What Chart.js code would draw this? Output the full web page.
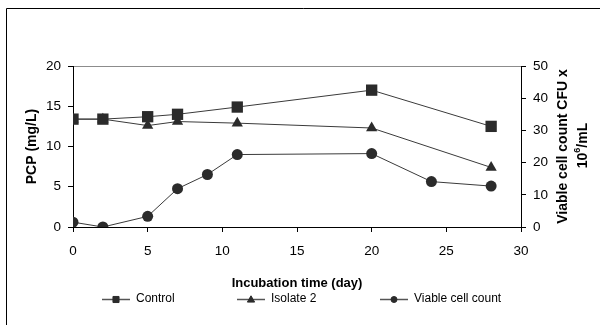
<!DOCTYPE html>
<html>
<head>
<meta charset="utf-8">
<script src="https://cdn.jsdelivr.net/npm/chart.js@4/dist/chart.umd.min.js"></script>
<style>
  html, body { margin: 0; padding: 0; background: #fff; }
  #wrap { position: relative; width: 600px; height: 325px; }
</style>
</head>
<body>
<div id="wrap"><canvas id="c" width="600" height="325"></canvas></div>
<script>
// ---- data ----
const controlDays = [0, 2, 5, 7, 11, 20, 28];
const controlPCP = [13.4, 13.4, 13.7, 14.0, 14.9, 17.0, 12.5];

const isolateDays = [0, 2, 5, 7, 11, 20, 28];
const isolatePCP = [13.4, 13.4, 12.6, 13.1, 12.9, 12.3, 7.4];

const viableDays = [0, 2, 5, 7, 9, 11, 20, 24, 28];
const viableCount = [1.5, 0, 3.3, 11.9, 16.3, 22.5, 22.8, 14.1, 12.7];

const seriesNames = ['Control', 'Isolate 2', 'Viable cell count'];
const xTitle = 'Incubation time (day)';
const yTitle = 'PCP (mg/L)';
const y2TitleLine1 = 'Viable cell count CFU x';

const pts = (xs, ys) => xs.map((x, i) => ({ x: x, y: ys[i] }));

const LINE = '#3a3a3a';
const MARK = '#2b2b2b';
const FONT = "'Liberation Sans', Arial, sans-serif";

const framePlugin = {
  id: 'frame',
  beforeDraw(chart) {
    const ctx = chart.ctx;
    ctx.save();
    ctx.strokeStyle = '#000';
    ctx.lineWidth = 1;
    ctx.beginPath();
    ctx.moveTo(6.5, 325);
    ctx.lineTo(6.5, 8.5);
    ctx.lineTo(600, 8.5);
    ctx.stroke();
    ctx.restore();
  }
};

const extrasPlugin = {
  id: 'extras',
  afterDraw(chart) {
    const ctx = chart.ctx;
    const a = chart.chartArea;
    const cy = (a.top + a.bottom) / 2;
    // right axis title (reads bottom to top)
    ctx.save();
    ctx.fillStyle = '#000';
    ctx.textAlign = 'center';
    ctx.textBaseline = 'middle';
    ctx.font = 'bold 14px ' + FONT;
    ctx.translate(563, cy);
    ctx.rotate(-Math.PI / 2);
    ctx.fillText(y2TitleLine1, 0, 0);
    ctx.restore();

    ctx.save();
    ctx.fillStyle = '#000';
    ctx.textBaseline = 'middle';
    ctx.translate(583, cy - 1);
    ctx.rotate(-Math.PI / 2);
    ctx.font = 'bold 14px ' + FONT;
    const w1 = ctx.measureText('10').width;
    const w3 = ctx.measureText('/mL').width;
    ctx.font = 'bold 9px ' + FONT;
    const w2 = ctx.measureText('6').width;
    const total = w1 + w2 + w3;
    let x = -total / 2;
    ctx.textAlign = 'left';
    ctx.font = 'bold 14px ' + FONT;
    ctx.fillText('10', x, 0); x += w1;
    ctx.font = 'bold 9px ' + FONT;
    ctx.fillText('6', x, -5); x += w2;
    ctx.font = 'bold 14px ' + FONT;
    ctx.fillText('/mL', x, 0);
    ctx.restore();

    // legend
    const items = [
      { x0: 102, style: 'rect', r: 4.3 },
      { x0: 237, style: 'triangle', r: 4.2 },
      { x0: 380, style: 'circle', r: 3 }
    ];
    const ly = 299;
    ctx.save();
    items.forEach((it, i) => {
      ctx.strokeStyle = '#555';
      ctx.lineWidth = 1.5;
      ctx.beginPath();
      ctx.moveTo(it.x0, ly + 0.5);
      ctx.lineTo(it.x0 + 28, ly + 0.5);
      ctx.stroke();
      ctx.fillStyle = MARK;
      ctx.strokeStyle = MARK;
      ctx.lineWidth = 1;
      Chart.helpers.drawPoint(ctx, { pointStyle: it.style, radius: it.r, borderWidth: 1, rotation: 0 }, it.x0 + 14, ly + (it.style === 'triangle' ? 1 : 0.5));
      ctx.fillStyle = '#000';
      ctx.font = '12px ' + FONT;
      ctx.textAlign = 'left';
      ctx.textBaseline = 'middle';
      ctx.fillText(seriesNames[i], it.x0 + 34, ly);
    });
    ctx.restore();
  }
};

new Chart(document.getElementById('c'), {
  type: 'line',
  data: {
    datasets: [
      {
        label: seriesNames[0], data: pts(controlDays, controlPCP), yAxisID: 'y',
        borderColor: LINE, borderWidth: 1, pointStyle: 'rect', pointRadius: 8,
        pointBackgroundColor: MARK, pointBorderColor: MARK, pointBorderWidth: 0, tension: 0
      },
      {
        label: seriesNames[1], data: pts(isolateDays, isolatePCP), yAxisID: 'y',
        borderColor: LINE, borderWidth: 1, pointStyle: 'triangle', pointRadius: 6.5,
        pointBackgroundColor: MARK, pointBorderColor: MARK, pointBorderWidth: 0, tension: 0
      },
      {
        label: seriesNames[2], data: pts(viableDays, viableCount), yAxisID: 'y2',
        borderColor: LINE, borderWidth: 1, pointStyle: 'circle', pointRadius: 5.5,
        pointBackgroundColor: MARK, pointBorderColor: MARK, pointBorderWidth: 0, tension: 0
      }
    ]
  },
  options: {
    responsive: false,
    animation: false,
    devicePixelRatio: 1,
    layout: { padding: { top: 66, left: 0, right: 0, bottom: 0 } },
    plugins: { legend: { display: false }, tooltip: { enabled: false } },
    scales: {
      x: {
        type: 'linear', position: 'bottom', min: 0, max: 30,
        ticks: { stepSize: 5, color: '#000', padding: 11, font: { family: FONT, size: 13.5 } },
        grid: { drawOnChartArea: false, tickLength: 5, tickColor: '#000' },
        border: { color: '#000', width: 1 },
        title: { display: true, text: xTitle, color: '#000', font: { family: FONT, size: 13, weight: 'bold' }, padding: { top: 0, bottom: 34 } },
        afterFit(s) { s.height = 98; }
      },
      y: {
        type: 'linear', position: 'left', min: 0, max: 20,
        ticks: { stepSize: 5, color: '#000', padding: 7, font: { family: FONT, size: 13.5 } },
        grid: {
          drawOnChartArea: true, tickLength: 5, tickColor: '#000',
          color: (c) => (c.tick && c.tick.value === 20 ? '#8c8c8c' : 'rgba(0,0,0,0)')
        },
        border: { color: '#000', width: 1 },
        title: { display: true, text: yTitle, color: '#000', font: { family: FONT, size: 14, weight: 'bold' }, padding: { top: 23.6, bottom: 0 } },
        afterFit(s) { s.width = 73; }
      },
      y2: {
        type: 'linear', position: 'right', min: 0, max: 50,
        ticks: { stepSize: 10, color: '#000', padding: 7, font: { family: FONT, size: 13.5 } },
        grid: { drawOnChartArea: false, tickLength: 5, tickColor: '#000' },
        border: { color: '#000', width: 1 },
        afterFit(s) { s.width = 79; }
      }
    }
  },
  plugins: [framePlugin, extrasPlugin]
});
</script>
</body>
</html>
